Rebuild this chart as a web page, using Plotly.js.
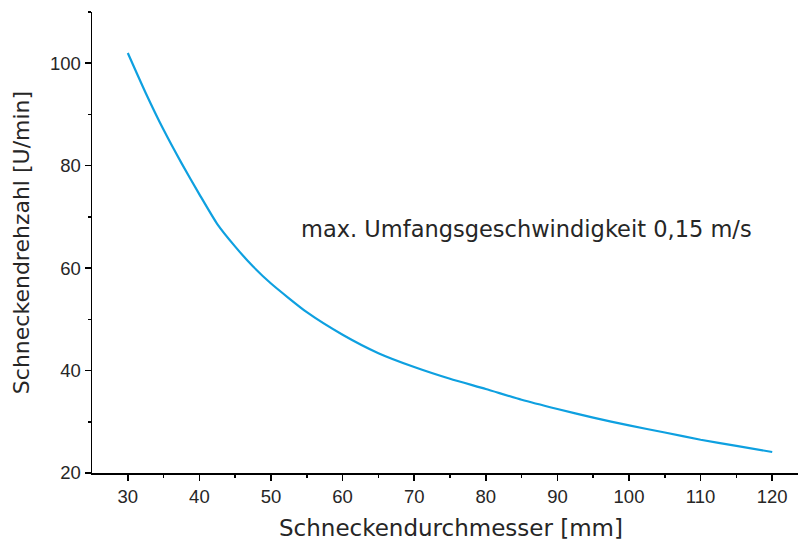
<!DOCTYPE html>
<html>
<head>
<meta charset="utf-8">
<script src="https://cdn.plot.ly/plotly-3.0.1.min.js"></script>
<style>html,body{margin:0;padding:0;background:#fff;}#chart{width:798px;height:542px;}</style>
</head>
<body>
<div id="chart"></div>
<script>
// Schneckendurchmesser [mm]
const diameter = [30, 32.5, 35, 37.5, 40, 42.5, 45, 47.5, 50, 55, 60, 65, 70, 75, 80, 85, 90, 95, 100, 105, 110, 115, 120];
// Schneckendrehzahl [U/min]
const speed = [102.0, 94.2, 87.0, 80.5, 74.4, 68.6, 64.2, 60.3, 57.0, 51.4, 47.0, 43.4, 40.7, 38.4, 36.4, 34.3, 32.5, 30.8, 29.3, 27.9, 26.5, 25.3, 24.1];
const xTicks = [30, 40, 50, 60, 70, 80, 90, 100, 110, 120];
const yTicks = [20, 40, 60, 80, 100];
const xTitle = 'Schneckendurchmesser [mm]';
const yTitle = 'Schneckendrehzahl [U/min]';
const noteText = 'max. Umfangsgeschwindigkeit 0,15 m/s';

const tickFont = 'Liberation Sans, Arial, sans-serif';
const textFont = 'DejaVu Sans, sans-serif';
const textCol = '#262626';

Plotly.newPlot('chart', [{
  x: diameter, y: speed, type: 'scatter', mode: 'lines',
  line: {color: '#0ea0e0', width: 2.2, shape: 'spline', smoothing: 0.6},
  hoverinfo: 'skip'
}], {
  width: 798, height: 542,
  margin: {l: 92, r: 0, t: 12, b: 69},
  paper_bgcolor: '#fff', plot_bgcolor: '#fff',
  showlegend: false,
  font: {family: tickFont, color: textCol},
  xaxis: {
    range: [25, 123.6], tickvals: xTicks, ticktext: xTicks.map(String),
    showline: true, linecolor: '#000', linewidth: 1.5,
    ticks: 'outside', ticklen: 6, tickwidth: 1.5, tickcolor: '#000',
    minor: {tickvals: [35, 45, 55, 65, 75, 85, 95, 105, 115], ticks: 'outside', ticklen: 3, tickwidth: 1.5, tickcolor: '#000'},
    showgrid: false, zeroline: false,
    tickfont: {size: 18.5, color: textCol, family: tickFont}
  },
  yaxis: {
    range: [20, 110], tickvals: yTicks, ticktext: yTicks.map(String),
    showline: true, linecolor: '#000', linewidth: 1.5,
    ticks: 'outside', ticklen: 6, tickwidth: 1.5, tickcolor: '#000',
    minor: {tickvals: [30, 50, 70, 90, 110], ticks: 'outside', ticklen: 3, tickwidth: 1.5, tickcolor: '#000'},
    showgrid: false, zeroline: false,
    tickfont: {size: 18.5, color: textCol, family: tickFont},
    title: {text: yTitle, font: {size: 22, color: textCol, family: textFont}, standoff: 14}
  },
  annotations: [{
    x: 85.65, y: 67.7, xref: 'x', yref: 'y', text: noteText, showarrow: false,
    font: {size: 22.5, color: textCol, family: textFont}, xanchor: 'center', yanchor: 'middle'
  }, {
    x: 0.508, y: 0, xref: 'paper', yref: 'paper', yshift: -54.5, text: xTitle, showarrow: false,
    font: {size: 23, color: textCol, family: textFont}, xanchor: 'center', yanchor: 'middle'
  }]
}, {staticPlot: true});
</script>
</body>
</html>
